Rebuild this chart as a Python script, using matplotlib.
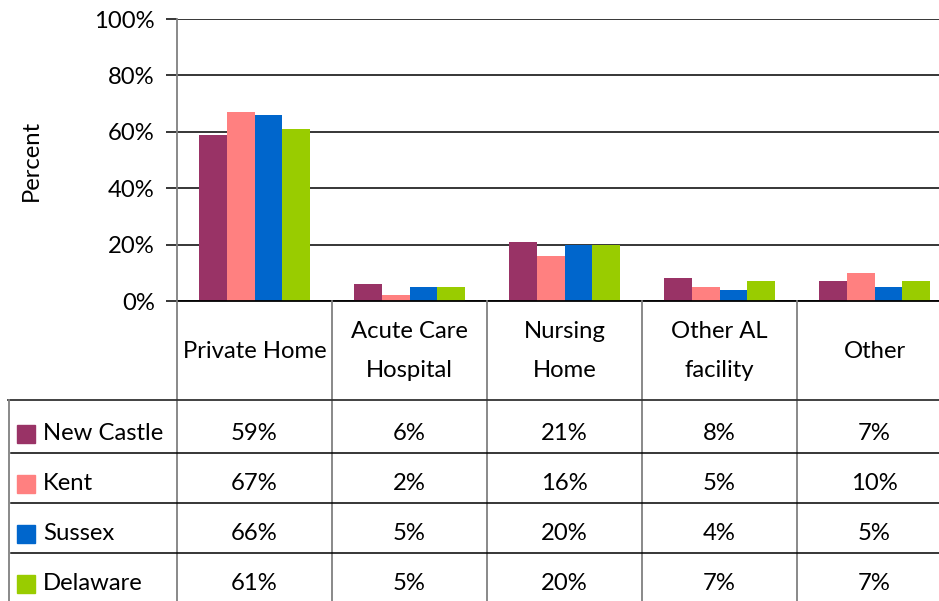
import matplotlib.pyplot as plt
import numpy as np

# data
categories = ["Private Home", "Acute Care\nHospital", "Nursing\nHome", "Other AL\nfacility", "Other"]
series = ["New Castle", "Kent", "Sussex", "Delaware"]
new_castle = [59, 6, 21, 8, 7]
kent = [67, 2, 16, 5, 10]
sussex = [66, 5, 20, 4, 5]
delaware = [61, 5, 20, 7, 7]
colors = ["#993366", "#FF8080", "#0066CC", "#99CC00"]
yticks = [0, 20, 40, 60, 80, 100]

values = [new_castle, kent, sussex, delaware]

plt.rcParams["font.family"] = ["Lato", "DejaVu Sans"]
fs = 17.2

W, H = 939, 601
px_cat = 155.0  # pixels per category
x_axis = 177     # pixel of y-axis
y_zero = 301
y_top = 19

fig = plt.figure(figsize=(W / 100, H / 100), dpi=100)
ax = fig.add_axes([x_axis / W, (H - y_zero) / H, (W - x_axis) / W, (y_zero - y_top) / H])

x = np.arange(len(categories))
group = 0.72
bw = group / len(series)
for i, (name, vals) in enumerate(zip(series, values)):
    ax.bar(x - group / 2 + bw * (i + 0.5), vals, width=bw, color=colors[i], label=name, zorder=3)

right = -0.5 + (W - x_axis) / px_cat
ax.set_xlim(-0.5, right)
ax.set_ylim(0, 100)
ax.set_yticks(yticks)
ax.set_yticklabels([f"{t}%" for t in yticks], fontsize=fs)
ax.set_xticks([])
ax.yaxis.grid(True, color="black", linewidth=1.1, zorder=0)
ax.tick_params(axis="y", direction="out", length=8, width=1.1, color="black", pad=8)
for s in ["top", "right"]:
    ax.spines[s].set_visible(False)
ax.spines["left"].set_color("#808080")
ax.spines["left"].set_linewidth(1.3)
ax.spines["bottom"].set_color("black")
ax.spines["bottom"].set_linewidth(1.3)
ax.spines["bottom"].set_zorder(4)
fig.text(31 / W, 1 - 160 / H, "Percent", rotation=90, fontsize=fs, ha="center", va="center")

# data table below the chart
tab = fig.add_axes([0, 0, 1, (H - y_zero) / H])
tab.set_xlim(-0.5 - x_axis / px_cat, right)
tab.set_ylim(H, y_zero)
tab.axis("off")


def px(p):
    return -0.5 + (p - x_axis) / px_cat


gray = "#808080"
for k in range(len(categories) + 1):
    tab.plot([k - 0.5, k - 0.5], [y_zero, H], color=gray, lw=1.3, clip_on=False)
tab.plot([px(8), right], [400, 400], color="#333333", lw=1.3)
tab.plot([px(9), px(9)], [400, H], color=gray, lw=1.3)
row_lines = [453, 503, 553]
for yl in row_lines:
    tab.plot([px(11), right], [yl, yl], color="black", lw=1.1)

for i, cat in enumerate(categories):
    tab.text(i, 351, cat, ha="center", va="center", fontsize=fs, linespacing=2.05)

row_y = [434, 484, 534, 584]
for r, (name, vals) in enumerate(zip(series, values)):
    yc = row_y[r]
    tab.add_patch(plt.Rectangle((px(17), yc - 9), 18 / px_cat, 18, color=colors[r], clip_on=False))
    tab.text(px(43), yc, name, ha="left", va="center", fontsize=fs)
    for i, v in enumerate(vals):
        tab.text(i, yc, f"{v}%", ha="center", va="center", fontsize=fs)

fig.savefig("out.png", dpi=100)
